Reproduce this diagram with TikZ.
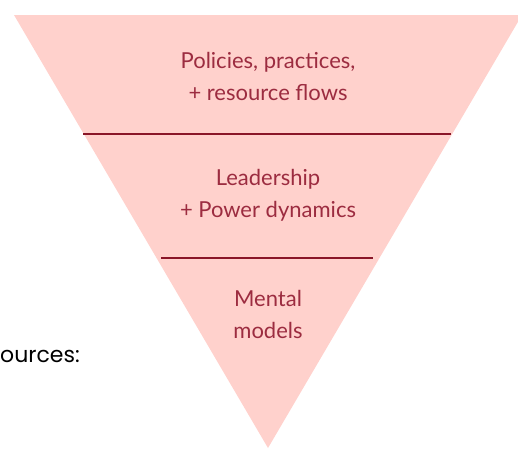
\documentclass[tikz,border=0pt]{standalone}
\usepackage{fontspec}
\setmainfont{Lato}
\newfontfamily\notefont{Poppins}
\usetikzlibrary{positioning}
\definecolor{cfill}{RGB}{255,209,204}
\definecolor{cline}{RGB}{138,22,40}
\definecolor{ctext}{RGB}{156,44,64}
\tikzstyle{level}=[ctext, align=center, inner sep=0pt, font=\fontsize{22}{32}\selectfont]
\tikzstyle{note}=[black, anchor=base west, inner sep=0pt, font=\notefont\fontsize{22}{26}\selectfont]
\tikzstyle{divider}=[cline, line width=2pt]

\begin{document}
\begin{tikzpicture}[x=1pt, y=-1pt]
  \useasboundingbox (0,0) rectangle (518,448);

  % the inverted pyramid
  \coordinate (top-l) at (14,15);
  \coordinate (top-r) at (522,15);
  \coordinate (apex) at (268,448);
  \fill [cfill] (top-l) -- (top-r) -- (apex) -- cycle;

  % dividers between the levels
  \coordinate (div-1l) at (83,134);
  \coordinate (div-1r) at (451,134);
  \coordinate (div-2l) at (161,258);
  \coordinate (div-2r) at (373,258);
  \draw [divider] (div-1l) -- (div-1r);
  \draw [divider] (div-2l) -- (div-2r);

  \node [level] (policies) at (268,76) {Policies, practices,\\+ resource flows};
  \node [level] (leadership) at (268,195) {Leadership\\+ Power dynamics};
  \node [level] (mental) at (268,314) {Mental\\models};

  \node [note] (sources) at (0,362) {ources:};
\end{tikzpicture}
\end{document}
